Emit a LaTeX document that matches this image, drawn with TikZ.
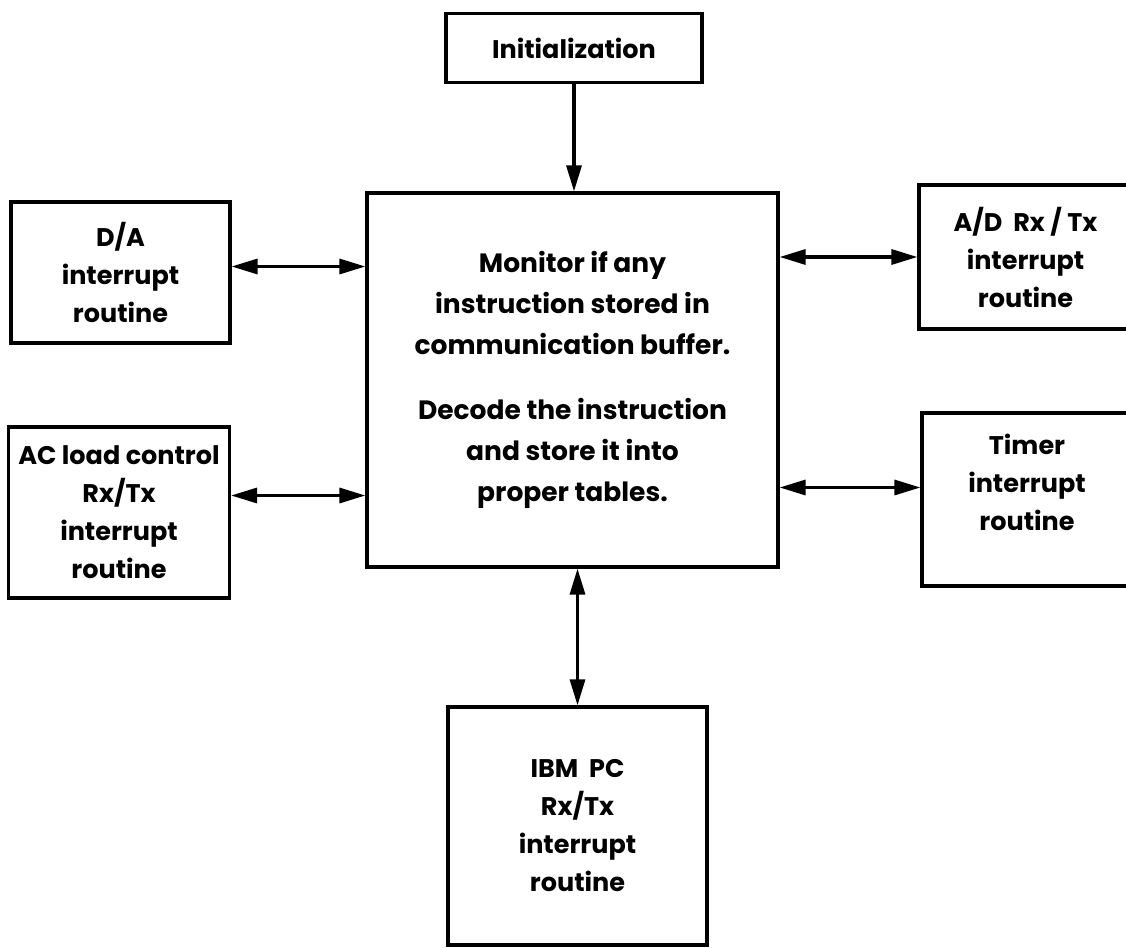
\documentclass[tikz,border=0pt]{standalone}
\usepackage{fontspec}
\setmainfont{Poppins}
\usetikzlibrary{arrows.meta}
\definecolor{LineClr}{rgb}{0,0,0}

\begin{document}
\begin{tikzpicture}[x=1pt,y=-1pt,
  box/.style={draw=LineClr,line width=3.2pt,align=center,inner sep=0pt,
    font=\bfseries\fontsize{25.5}{38}\selectfont},
  link/.style={draw=LineClr,line width=3.2pt,
    {Triangle[length=26pt,width=15pt]}-{Triangle[length=26pt,width=15pt]}},
  feed/.style={draw=LineClr,line width=3.2pt,-{Triangle[length=26pt,width=15pt]}}]
\useasboundingbox (0,0) rectangle (1126,947);
\clip (0,0) rectangle (1126,947);

% boxes
\node[box,minimum width=256pt,minimum height=69pt] (init) at (574,48) {Initialization};
\node[box,minimum width=411pt,minimum height=374pt,
  font=\bfseries\fontsize{26.5}{41}\selectfont] (main) at (572.5,380)
  {Monitor if any\\instruction stored in\\communication buffer.\\[24pt]
   Decode the instruction\\and store it into\\proper tables.};
\node[box,minimum width=219pt,minimum height=141pt] (da) at (120.5,272.5)
  {D/A\\interrupt\\routine};
\node[box,minimum width=221pt,minimum height=171pt] (ac) at (119,512.5)
  {AC load control\\Rx/Tx\\interrupt\\routine};
\node[box,minimum width=213pt,minimum height=144pt] (ad) at (1025.5,257)
  {A/D\ \ Rx / Tx\\interrupt\\routine};
\node[box,minimum width=210pt,minimum height=173pt,text depth=34pt] (timer) at (1027,499.5)
  {Timer\\interrupt\\routine};
\node[box,minimum width=259pt,minimum height=238pt] (ibm) at (577.5,826)
  {IBM\ \ PC\\Rx/Tx\\interrupt\\routine};

% connectors
\draw[feed] (init.south) -- (init.south |- main.north);
\draw[link] ([yshift=6pt]da.east) -- ([yshift=6pt]da.east -| main.west);
\draw[link] ([yshift=17pt]ac.east) -- ([yshift=17pt]ac.east -| main.west);
\draw[link] (ad.west) -- (ad.west -| main.east);
\draw[link] ([yshift=12pt]timer.west) -- ([yshift=12pt]timer.west -| main.east);
\draw[link] (ibm.north) -- (ibm.north |- main.south);

\end{tikzpicture}
\end{document}
